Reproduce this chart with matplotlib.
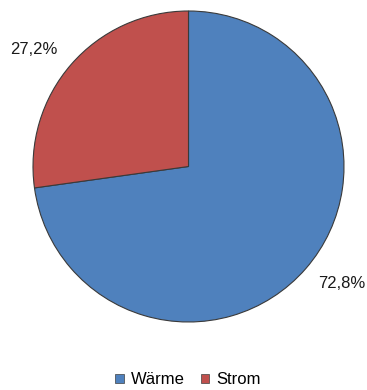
import matplotlib
matplotlib.use("Agg")
from matplotlib import pyplot as plt
from matplotlib.patches import Patch

plt.rcParams["font.family"] = ["Liberation Sans", "DejaVu Sans"]

# data
categories = ["Wärme", "Strom"]
shares = [72.8, 27.2]
labels = ["72,8%", "27,2%"]
colors = ["#4F81BD", "#C0504D"]

W, H = 367, 390
fig = plt.figure(figsize=(W / 100, H / 100), dpi=100)
fig.patch.set_facecolor("white")

# pie box in pixels: left 33, right 344, top 11, bottom 322
ax = fig.add_axes([33 / W, (H - 322) / H, 311 / W, 311 / H])
wedges, texts = ax.pie(
    shares,
    colors=colors,
    labels=labels,
    startangle=90,
    counterclock=False,
    wedgeprops=dict(edgecolor="#3a3a3a", linewidth=0.8),
    textprops=dict(fontsize=12, color="#1a1a1a"),
)
# excel-like label placement, outside the corners of the slices
label_pos = [(0.985, -0.75), (-0.995, 0.755)]
for t, (x, y) in zip(texts, label_pos):
    t.set_position((x, y))
    t.set_horizontalalignment("center")
    t.set_verticalalignment("center")
ax.set_xlim(-1, 1)
ax.set_ylim(-1, 1)
ax.set_aspect("equal")

handles = [Patch(facecolor=c, edgecolor="#404040", linewidth=0.5) for c in colors]
fig.legend(
    handles, categories,
    loc="center", bbox_to_anchor=(188 / W, 1 - 380 / H),
    ncol=2, frameon=False, fontsize=12,
    handlelength=0.5, handleheight=0.5, handletextpad=0.4, columnspacing=1.0,
)

fig.savefig("out.png", dpi=100, facecolor="white")
